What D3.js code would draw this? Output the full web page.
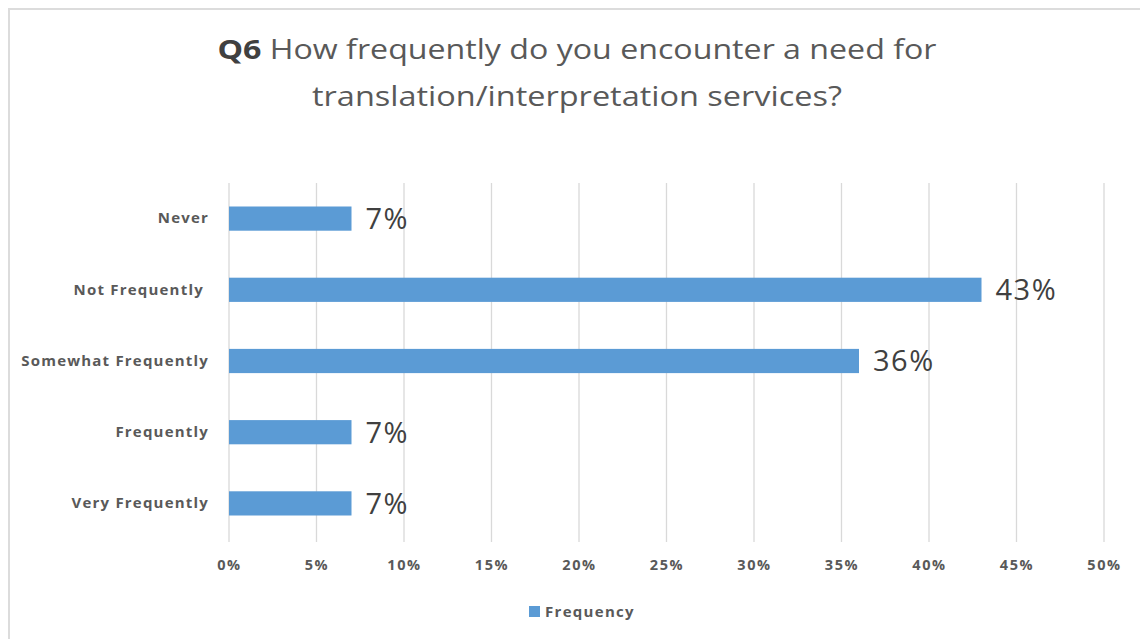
<!DOCTYPE html>
<html><head><meta charset="utf-8">
<script src="https://cdn.jsdelivr.net/npm/d3@7"></script>
<style>body{margin:0;background:#fff;} svg{display:block;}</style>
</head><body>
<script>
const categories = ["Never","Not Frequently ","Somewhat Frequently","Frequently","Very Frequently"];
const values = [7,43,36,7,7];
const valueLabels = ["7%","43%","36%","7%","7%"];
const tickValues = [0,5,10,15,20,25,30,35,40,45,50];
const seriesName = "Frequency";
const titleBold = "Q6";
const titleLine1 = " How frequently do you encounter a need for";
const titleLine2 = "translation/interpretation services?";

const W=1140,H=639;
const svg=d3.select("body").append("svg").attr("width",W).attr("height",H);
const font="'Open Sans', 'DejaVu Sans', sans-serif";
// frame
svg.append("path").attr("d","M9,"+H+" V9 H"+W).attr("fill","none").attr("stroke","#dcdcdc").attr("stroke-width",2);

const x=d3.scaleLinear().domain([0,50]).range([229,1104]);
const y=d3.scaleBand().domain(categories).range([183,539]).paddingInner(0.66).paddingOuter(0.33);

// gridlines
svg.append("g").selectAll("line").data(tickValues).join("line")
 .attr("x1",d=>x(d)).attr("x2",d=>x(d)).attr("y1",183).attr("y2",542)
 .attr("stroke","#d9d9d9").attr("stroke-width",1.3);

// x axis labels
const xa=d3.axisBottom(x).tickValues(tickValues).tickFormat(d=>d+"%").tickSize(0).tickPadding(0);
const gx=svg.append("g").attr("transform","translate(0,559)").call(xa);
gx.select(".domain").remove();
gx.selectAll("text").attr("font-family",font).attr("font-weight","bold").attr("font-size",14.5)
 .attr("letter-spacing",1.6).attr("fill","#595959").attr("dy","0.75em");

// y axis labels
const ya=d3.axisLeft(y).tickSize(0).tickPadding(0);
const gy=svg.append("g").attr("transform","translate(209,0)").call(ya);
gy.select(".domain").remove();
gy.selectAll("text").attr("font-family",font).attr("font-weight","bold").attr("font-size",15)
 .attr("letter-spacing",1.2).style("white-space","pre").attr("fill","#595959");

// bars
svg.append("g").selectAll("rect").data(categories).join("rect")
 .attr("x",x(0)).attr("y",d=>y(d)).attr("height",y.bandwidth())
 .attr("width",(d,i)=>x(values[i])-x(0)).attr("fill","#5b9bd5");

// data labels
svg.append("g").selectAll("text").data(categories).join("text")
 .attr("x",(d,i)=>x(values[i])+14).attr("y",d=>y(d)+y.bandwidth()/2).attr("dy","0.36em")
 .attr("font-family",font).attr("font-size",29).attr("letter-spacing",1.5).attr("fill","#404040")
 .text((d,i)=>valueLabels[i]);

// title
const t1=svg.append("text").attr("x",577).attr("y",59).attr("text-anchor","middle")
 .attr("font-family",font).attr("font-size",27).attr("fill","#595959");
t1.append("tspan").attr("font-weight","bold").attr("fill","#404040").text(titleBold);
t1.append("tspan").text(titleLine1);
const t2=svg.append("text").attr("x",577).attr("y",106).attr("text-anchor","middle")
 .attr("font-family",font).attr("font-size",27).attr("fill","#595959").text(titleLine2);
t1.attr("textLength",719).attr("lengthAdjust","spacingAndGlyphs");
t2.attr("textLength",530).attr("lengthAdjust","spacingAndGlyphs");

// legend
svg.append("rect").attr("x",529).attr("y",606).attr("width",11).attr("height",11).attr("fill","#5b9bd5");
svg.append("text").attr("x",545).attr("y",612).attr("dy","0.36em").attr("font-family",font).attr("font-weight","bold")
 .attr("font-size",15).attr("letter-spacing",1.3).attr("fill","#595959").text(seriesName);
</script>
</body></html>
